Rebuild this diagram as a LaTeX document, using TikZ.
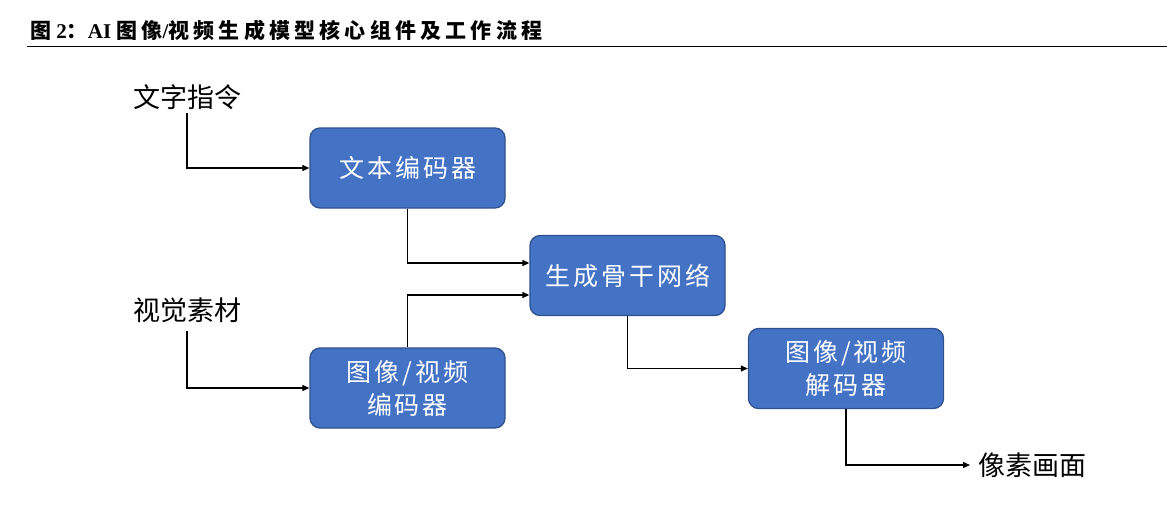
\documentclass[tikz,border=0pt]{standalone}
\usepackage{fontspec}
\setmainfont{Liberation Serif}
\newfontfamily\cjk{Noto Sans CJK SC}
\newfontfamily\cjksp[LetterSpace=12]{Noto Sans CJK SC}
\newfontfamily\cjkti[LetterSpace=20]{Noto Sans CJK SC}
\usetikzlibrary{arrows.meta}
\definecolor{boxfill}{HTML}{4472C4}
\definecolor{boxborder}{HTML}{2F528F}
\begin{document}
\begin{tikzpicture}[x=1pt,y=-1pt,
  box/.style={draw=boxborder, fill=boxfill, line width=1.3pt, rounded corners=10pt,
    minimum width=195pt, minimum height=80pt, text=white,
    font=\cjksp\fontsize{25}{33}\selectfont, align=center, inner sep=0pt},
  lbl/.style={font=\cjk\fontsize{27}{30}\selectfont, inner sep=0pt},
  conn/.style={line width=1.2pt, -{Triangle[length=7pt,width=6pt]}}]
\useasboundingbox (0,0) rectangle (1167,509);
% title
\node[anchor=west, inner sep=0pt, font=\fontsize{21}{24}\selectfont\bfseries] (title) at (30,30)
  {{\cjkti 图} 2{\cjkti ：}AI {\cjkti 图像}/{\cjkti 视频生成模型核心组件及工作流程}};
\draw[line width=1pt] (27,46) -- (1167,46);
% nodes
\node[box] (te) at (407.5,168) {文本编码器};
\node[box] (gb) at (627.5,275.5) {生成骨干网络};
\node[box] (ie) at (407.5,388) {图像/视频\\编码器};
\node[box] (de) at (846,368.5) {图像/视频\\解码器};
\node[lbl] (t1) at (187,97) {文字指令};
\node[lbl] (t2) at (187,310) {视觉素材};
\node[lbl,anchor=west] (t3) at (978,465) {像素画面};
% connectors
\draw[conn] ([yshift=-3pt]t1.south) |- (te.west);
\draw[conn] (te.south) |- ([yshift=12.5pt]gb.west);
\draw[conn] (ie.north) |- ([yshift=-19.5pt]gb.west);
\draw[conn] ([yshift=-8pt]t2.south) |- (ie.west);
\draw[conn] (gb.south) |- (de.west);
\draw[conn] (de.south) |- ([xshift=-8pt]t3.west);
\end{tikzpicture}
\end{document}
